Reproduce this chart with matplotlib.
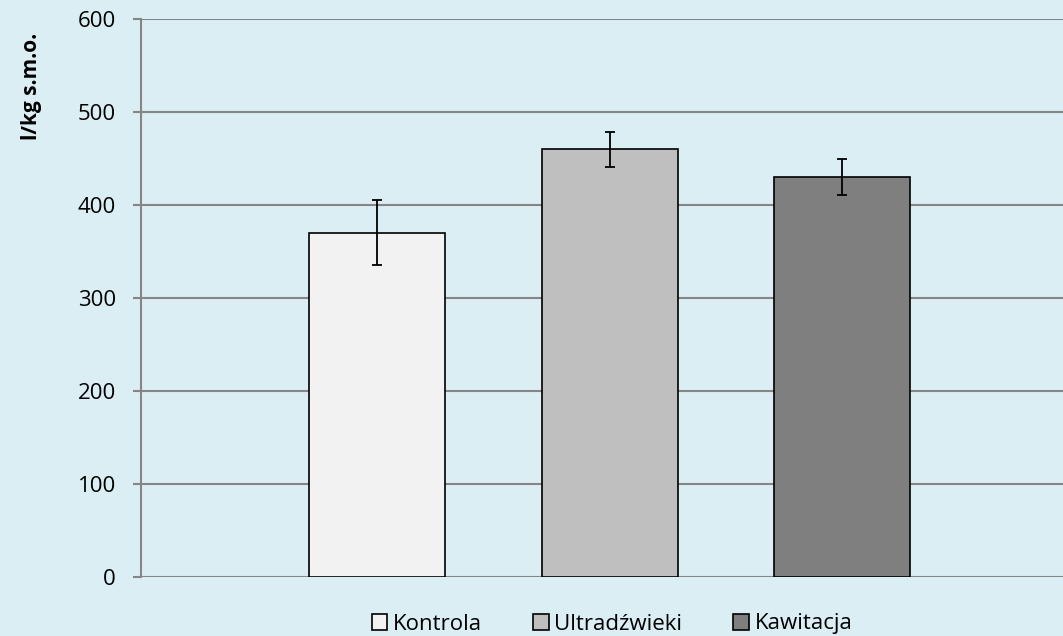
import matplotlib; matplotlib.use("agg")
import matplotlib.pyplot as plt
from matplotlib.patches import Patch

labels = ["Kontrola", "Ultradźwieki", "Kawitacja"]
values = [370, 460, 430]
errors = [35, 19, 19]
colors = ["#F2F2F2", "#BFBFBF", "#7F7F7F"]
yticks = [0, 100, 200, 300, 400, 500, 600]

bg = "#DBEEF4"
plt.rcParams["font.family"] = ["Open Sans", "DejaVu Sans"]

fig = plt.figure(figsize=(10.63, 6.36), dpi=100, facecolor=bg)
ax = fig.add_axes([141/1063, 59/636, 1 - 141/1063, 558/636], facecolor=bg)

x = range(len(labels))
ax.bar(x, values, width=0.585, color=colors, edgecolor="black", linewidth=1.2, zorder=3)
ax.errorbar(x, values, yerr=errors, fmt="none", ecolor="black", elinewidth=1.3,
            capsize=3.3, capthick=1.3, zorder=4)

ax.set_xlim(-1.015, 2.95)
ax.set_ylim(0, 600)
ax.set_yticks(yticks)
ax.set_xticks([])
ax.yaxis.grid(True, color="#868686", linewidth=1.5, zorder=0)
ax.tick_params(axis="y", length=6, width=1.5, color="#868686", labelsize=16, pad=12)
for s in ["top", "right", "bottom"]:
    ax.spines[s].set_visible(False)
ax.spines["left"].set_color("#868686")
ax.spines["left"].set_linewidth(1.5)

ax.set_ylabel("l/kg s.m.o.", fontsize=15, fontweight="bold")
ax.yaxis.set_label_coords(-0.107, 0.88)

handles = [Patch(facecolor=c, edgecolor="black", linewidth=1.2) for c in colors]
fig.legend(handles, labels, loc="center", bbox_to_anchor=(612/1063, 1 - 624/636),
           ncol=3, frameon=False, fontsize=16, handlelength=0.7, handleheight=0.7,
           handletextpad=0.25, columnspacing=2.3)

fig.savefig("out.png", dpi=100, facecolor=bg)
